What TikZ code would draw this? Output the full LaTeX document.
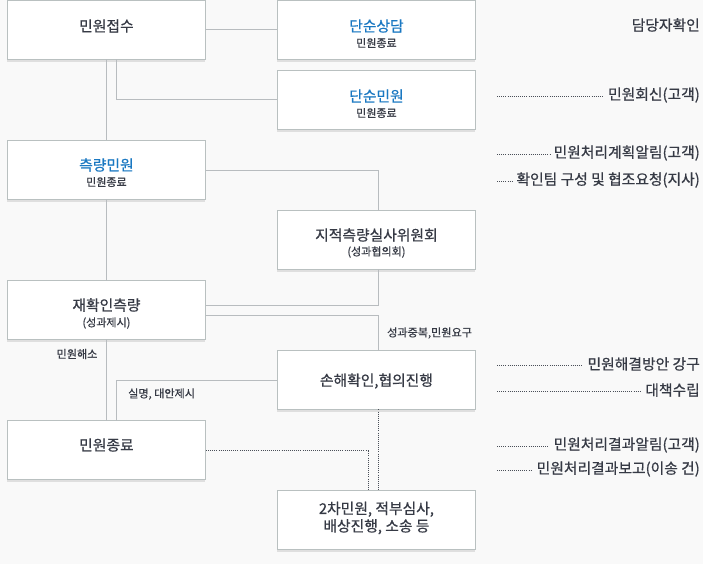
\documentclass[tikz,border=0pt]{standalone}
\usepackage{fontspec}
\setmainfont{Noto Sans CJK KR}
\newfontfamily\medfont[FakeBold=0.7]{Noto Sans CJK KR}
\usetikzlibrary{shadows}
\definecolor{bgc}{HTML}{F9F9F9}
\definecolor{bdc}{HTML}{B9C0C0}
\definecolor{txc}{HTML}{363A45}
\definecolor{blc}{HTML}{1A78C2}
\definecolor{lnc}{HTML}{B8BCBF}
\definecolor{dtc}{HTML}{4A4F58}
\tikzset{
  box/.style={draw=bdc, fill=white, line width=0.9pt, minimum width=198pt, minimum height=59pt,
    inner sep=0pt, anchor=north west,
    drop shadow={shadow xshift=0pt, shadow yshift=-3pt, opacity=0.10, fill=black}},
  maintxt/.style={text=txc, font=\medfont\fontsize{14.8}{17}\selectfont, inner sep=0pt},
  bluetxt/.style={text=blc, font=\medfont\fontsize{14.8}{17}\selectfont, inner sep=0pt},
  subtxt/.style={text=txc, font=\medfont\fontsize{11}{13}\selectfont, inner sep=0pt},
  lbl/.style={text=txc, font=\medfont\fontsize{11.1}{13}\selectfont, inner sep=0pt},
  rtxt/.style={text=txc, font=\medfont\fontsize{14.8}{17}\selectfont, inner sep=0pt, anchor=east},
  conn/.style={draw=lnc, line width=0.9pt},
  dotc/.style={draw=dtc, line width=0.8pt, dash pattern=on 0.8pt off 1.3pt},
}
\begin{document}
\begin{tikzpicture}[x=1pt,y=-1pt]
\fill[bgc] (0,0) rectangle (703,564);
\useasboundingbox (0,0) rectangle (703,564);

\node[box] (a) at (7,0) {};
\node[box] (b) at (277,0) {};
\node[box] (d) at (277,70) {};
\node[box] (c) at (7,140) {};
\node[box] (e) at (277,210) {};
\node[box] (f) at (7,280) {};
\node[box] (g) at (277,350) {};
\node[box] (h) at (7,420) {};
\node[box] (i) at (277,490) {};

\draw[conn] (a.east) -- (b.west);
\draw[conn] ([yshift=0.5]a.south) -- ([yshift=-0.5]c.north);
\draw[conn] ([xshift=10,yshift=0.5]a.south) |- (d.west);
\draw[conn] (c.east) -| ([xshift=2,yshift=-0.5]e.north);
\draw[conn] ([yshift=0.5]c.south) -- ([yshift=-0.5]f.north);
\draw[conn] ([xshift=2,yshift=0.5]e.south) |- ([yshift=4.5]f.east);
\draw[conn] ([yshift=-5.5]f.east) -| ([xshift=2,yshift=-0.5]g.north);
\draw[conn] ([yshift=0.5]f.south) -- ([yshift=-0.5]h.north);
\draw[conn] (g.west) -| ([xshift=10,yshift=-0.5]h.north);
\draw[dotc] ([xshift=2,yshift=0.5]g.south) -- ([xshift=2,yshift=-0.5]i.north);
\draw[dotc] (h.east) -| ([xshift=-8,yshift=-0.5]i.north);

% box texts
\node[maintxt] (ta) at ([yshift=-26]a.north) {민원접수};
\node[bluetxt] (tb) at ([yshift=-26]b.north) {단순상담};
\node[subtxt] (tb2) at ([yshift=-43]b.north) {민원종료};
\node[bluetxt] (td) at ([yshift=-26]d.north) {단순민원};
\node[subtxt] (td2) at ([yshift=-43]d.north) {민원종료};
\node[bluetxt] (tc) at ([yshift=-25]c.north) {측량민원};
\node[subtxt] (tc2) at ([yshift=-42]c.north) {민원종료};
\node[maintxt] (te) at ([yshift=-25]e.north) {지적측량실사위원회};
\node[subtxt] (te2) at ([yshift=-42]e.north) {(성과협의회)};
\node[maintxt] (tf) at ([yshift=-25]f.north) {재확인측량};
\node[subtxt] (tf2) at ([yshift=-43]f.north) {(성과제시)};
\node[maintxt] (tg) at ([yshift=-31]g.north) {손해확인,협의진행};
\node[maintxt] (th) at ([yshift=-25]h.north) {민원종료};
\node[maintxt, align=center, font=\medfont\fontsize{14.8}{17.5}\selectfont] (ti) at ([yshift=-28]i.north) {2차민원, 적부심사,\\배상진행, 소송 등};

% connector labels
\node[lbl, anchor=west] (l1) at (387,333) {성과중복,민원요구};
\node[lbl] (l2) at (77,354) {민원해소};
\node[lbl, anchor=west] (l3) at (128,394) {실명, 대안제시};

% right column
\node[rtxt] (r0) at (700,25) {담당자확인};
\node[rtxt] (r1) at (700,95) {민원회신(고객)};
\node[rtxt] (r2) at (700,153) {민원처리계획알림(고객)};
\node[rtxt] (r3) at (700,180) {확인팀 구성 및 협조요청(지사)};
\node[rtxt] (r4) at (700,364) {민원해결방안 강구};
\node[rtxt] (r5) at (700,390) {대책수립};
\node[rtxt] (r6) at (700,445) {민원처리결과알림(고객)};
\node[rtxt] (r7) at (700,469) {민원처리결과보고(이송 건)};

\coordinate (s1) at (497,96);
\coordinate (s2) at (497,154);
\coordinate (s3) at (497,181);
\coordinate (s4) at (497,365);
\coordinate (s5) at (497,391);
\coordinate (s6) at (497,446);
\coordinate (s7) at (497,470);
\draw[dotc] (s1) -- ([xshift=-5]r1.west |- s1);
\draw[dotc] (s2) -- ([xshift=-2]r2.west |- s2);
\draw[dotc] (s3) -- ([xshift=-3]r3.west |- s3);
\draw[dotc] (s4) -- ([xshift=-5]r4.west |- s4);
\draw[dotc] (s5) -- ([xshift=-5]r5.west |- s5);
\draw[dotc] (s6) -- ([xshift=-5]r6.west |- s6);
\draw[dotc] (s7) -- ([xshift=-5]r7.west |- s7);
\end{tikzpicture}
\end{document}
